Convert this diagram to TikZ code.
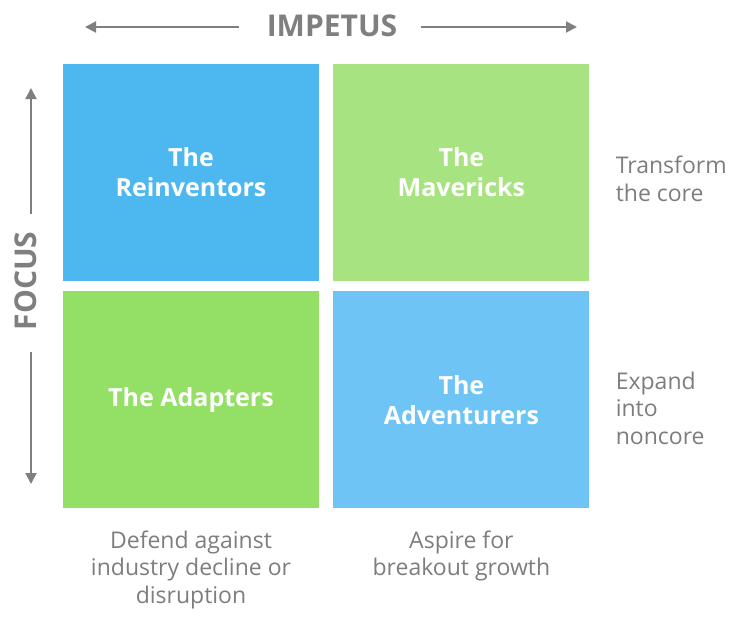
\documentclass[tikz,border=0pt]{standalone}
\usepackage{fontspec}
\setmainfont{Open Sans}
\usetikzlibrary{positioning,arrows.meta}

\definecolor{reinblue}{HTML}{4DB7F0}
\definecolor{mavgreen}{HTML}{A8E381}
\definecolor{adaptgreen}{HTML}{94DF66}
\definecolor{adventblue}{HTML}{6EC4F4}
\definecolor{axisgray}{HTML}{7F7F7F}
\definecolor{notegray}{HTML}{7D7D7D}

\begin{document}
\begin{tikzpicture}[x=1pt, y=-1pt, node distance=10pt and 14pt]
    \tikzset{
        quad/.style         =   { rectangle
                                , inner sep=0pt
                                , minimum width=256pt
                                , minimum height=217pt
                                , align=center
                                , text=white
                                , font=\bfseries\fontsize{25}{30}\selectfont
        }
        , axislabel/.style  =   { inner sep=0pt
                                , text=axisgray
                                , font=\bfseries\fontsize{30}{36}\selectfont
        }
        , note/.style       =   { inner sep=0pt
                                , text=notegray
                                , font=\fontsize{23}{27.5}\selectfont
        }
        , axis/.style       =   { line width=2pt
                                , draw=axisgray
                                , -{Triangle[length=11pt,width=11pt]}
        }
    }
    \useasboundingbox (0,0) rectangle (744,625);

    % the four quadrants
    \node(rein)  [quad, fill=reinblue] at (191,172.5)       {The\\Reinventors};
    \node(mav)   [quad, fill=mavgreen, right=of rein]       {The\\Mavericks};
    \node(adapt) [quad, fill=adaptgreen, below=of rein]     {The Adapters};
    \node(advent)[quad, fill=adventblue, below=of mav]      {The\\Adventurers};

    % notes
    \node(core)    [note, align=left, right=26pt of mav, yshift=-6.5pt]    {Transform\\the core};
    \node(noncore) [note, align=left, right=26pt of advent, yshift=-8pt]  {Expand\\into\\noncore};
    \node(defend)  [note, align=center, below=22pt of adapt]   {Defend against\\industry decline or\\disruption};
    \node(aspire)  [note, align=center, below=22pt of advent]  {Aspire for\\breakout growth};

    % axes
    \node(impetus)[axislabel] at (332,25.5) {IMPETUS};
    \node(focus)  [axislabel, rotate=90] at (26,281) {FOCUS};
    \coordinate(impL) at (85,27);
    \coordinate(impR) at (577,27);
    \coordinate(focU) at (31,88);
    \coordinate(focD) at (31,484);

    \draw[axis, shorten <=28pt] (impetus.west |- impL) -- (impL);
    \draw[axis, shorten <=24pt] (impetus.east |- impR) -- (impR);
    \draw[axis, shorten <=17pt] (focU |- focus.east) -- (focU);
    \draw[axis, shorten <=21pt] (focD |- focus.west) -- (focD);
\end{tikzpicture}
\end{document}
